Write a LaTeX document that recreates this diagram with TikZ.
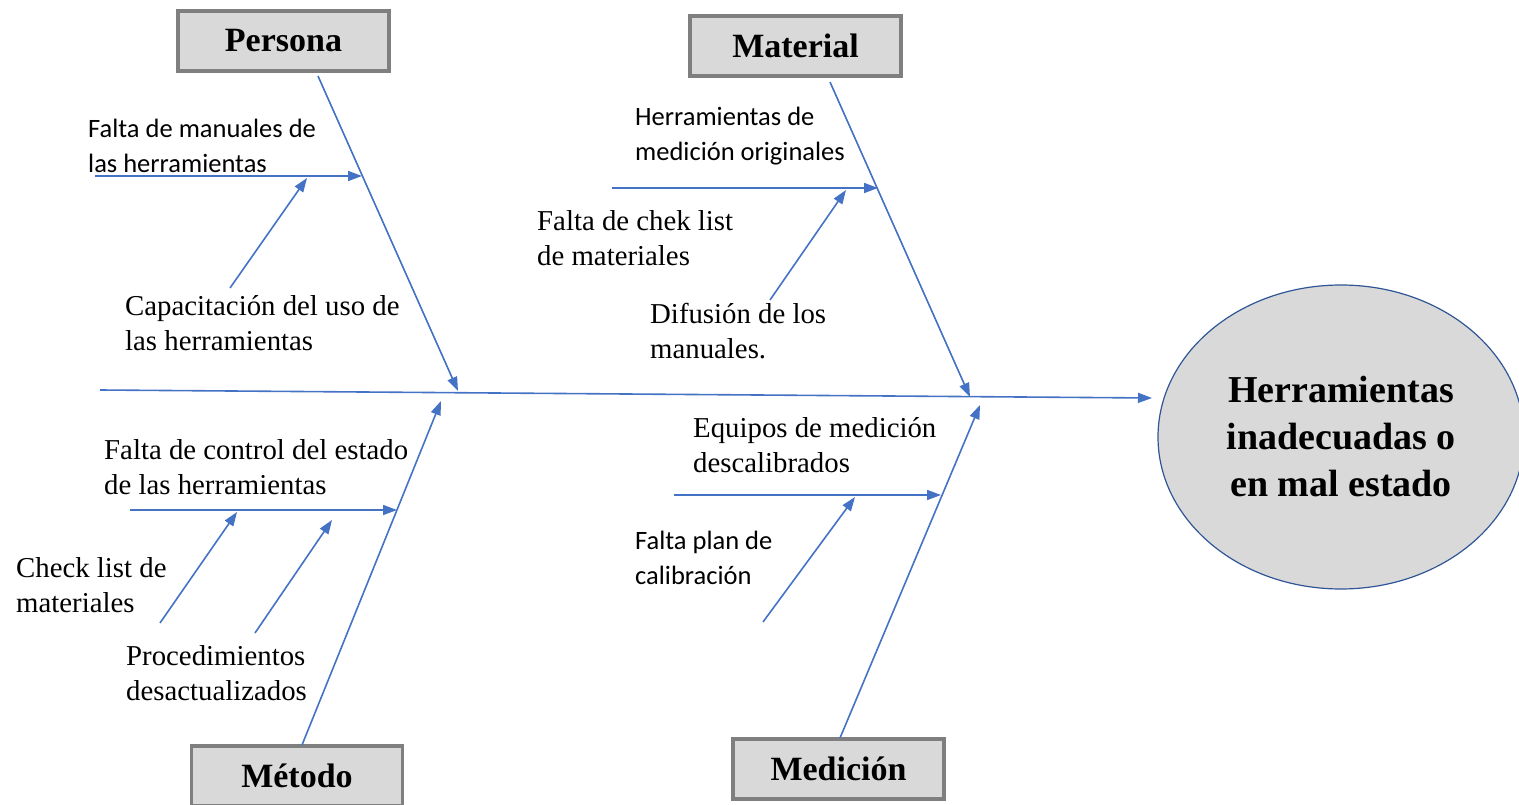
\documentclass[tikz,border=0pt]{standalone}
\usepackage{fontspec}
\setmainfont{Liberation Serif}
\newfontfamily\calib{Carlito}
\usetikzlibrary{arrows.meta,shapes.geometric}
\definecolor{bonecol}{HTML}{4472C4}
\definecolor{boxfill}{HTML}{D9D9D9}
\definecolor{boxline}{HTML}{7F7F7F}
\definecolor{elline}{HTML}{2F5597}
\begin{document}
\begin{tikzpicture}[x=1pt,y=-1pt,
  catbox/.style={draw=boxline, line width=3.2pt, fill=boxfill, minimum width=211pt, minimum height=60pt, inner sep=0pt, font=\fontsize{34}{40}\selectfont\bfseries},
  bonearrow/.style={draw=bonecol, line width=1.6pt, -{Triangle[length=14pt,width=10pt]}},
  serif/.style={anchor=west, inner sep=0pt, align=left, font=\fontsize{28.8}{35}\selectfont},
  sans/.style={anchor=west, inner sep=0pt, align=left, font=\calib\fontsize{26.5}{35}\selectfont},
  effect/.style={ellipse, draw=elline, line width=1.2pt, fill=boxfill, minimum width=366pt, minimum height=304pt, inner sep=0pt, align=center, font=\fontsize{38}{47}\selectfont\bfseries}
]
\useasboundingbox (0,0) rectangle (1519,805);

% category boxes and effect
\node[catbox] (persona) at (283.5,41) {Persona};
\node[catbox] (material) at (795.5,46) {Material};
\node[catbox] (metodo) at (297,776) {Método};
\node[catbox] (medicion) at (838.5,769) {Medición};
\node[effect] (efecto) at (1341,437) {Herramientas\\inadecuadas o\\en mal estado};

% coordinates
\coordinate (s0) at (100,390);
\coordinate (sE) at (1152,398);
\coordinate (pTop) at (318,76);  \coordinate (pTip) at (458,391);
\coordinate (p1a) at (95,176);   \coordinate (p1b) at (362,176);
\coordinate (p2a) at (230,288);  \coordinate (p2b) at (307,178);
\coordinate (mTop) at (830,82);  \coordinate (mTip) at (970,397);
\coordinate (m1a) at (612,188);  \coordinate (m1b) at (878,188);
\coordinate (m2a) at (770,300);  \coordinate (m2b) at (846,190);
\coordinate (tTop) at (302,745); \coordinate (tTip) at (441,401);
\coordinate (t1a) at (130,510);  \coordinate (t1b) at (397,510);
\coordinate (t2a) at (160,623);  \coordinate (t2b) at (237,512);
\coordinate (t3a) at (255,633);  \coordinate (t3b) at (332,520);
\coordinate (dTop) at (840,738); \coordinate (dTip) at (980,405);
\coordinate (d1a) at (674,495);  \coordinate (d1b) at (941,495);
\coordinate (d2a) at (763,622);  \coordinate (d2b) at (855,497);

% spine
\draw[bonearrow] (s0) -- (sE);
% main bones
\draw[bonearrow] (pTop) -- (pTip);
\draw[bonearrow] (mTop) -- (mTip);
\draw[bonearrow] (tTop) -- (tTip);
\draw[bonearrow] (dTop) -- (dTip);
% sub causes
\draw[bonearrow] (p1a) -- (p1b);
\draw[bonearrow] (p2a) -- (p2b);
\draw[bonearrow] (m1a) -- (m1b);
\draw[bonearrow] (m2a) -- (m2b);
\draw[bonearrow] (t1a) -- (t1b);
\draw[bonearrow] (t2a) -- (t2b);
\draw[bonearrow] (t3a) -- (t3b);
\draw[bonearrow] (d1a) -- (d1b);
\draw[bonearrow] (d2a) -- (d2b);

% labels
\node[sans]  (l1) at (88,145.5) {Falta de manuales de\\las herramientas};
\node[serif] (l2) at (125,323.5) {Capacitación del uso de\\las herramientas};
\node[sans]  (l3) at (635,136.5) {Herramientas de\\medición originales};
\node[serif] (l4) at (537,238) {Falta de chek list\\de materiales};
\node[serif] (l5) at (650,331) {Difusión de los\\manuales.};
\node[serif] (l6) at (104,467.5) {Falta de control del estado\\de las herramientas};
\node[serif] (l7) at (16,585.5) {Check list de\\materiales};
\node[serif] (l8) at (126,673.5) {Procedimientos\\desactualizados};
\node[serif] (l9) at (693,445.5) {Equipos de medición\\descalibrados};
\node[sans]  (l10) at (635,558) {Falta plan de\\calibración};
\end{tikzpicture}
\end{document}
